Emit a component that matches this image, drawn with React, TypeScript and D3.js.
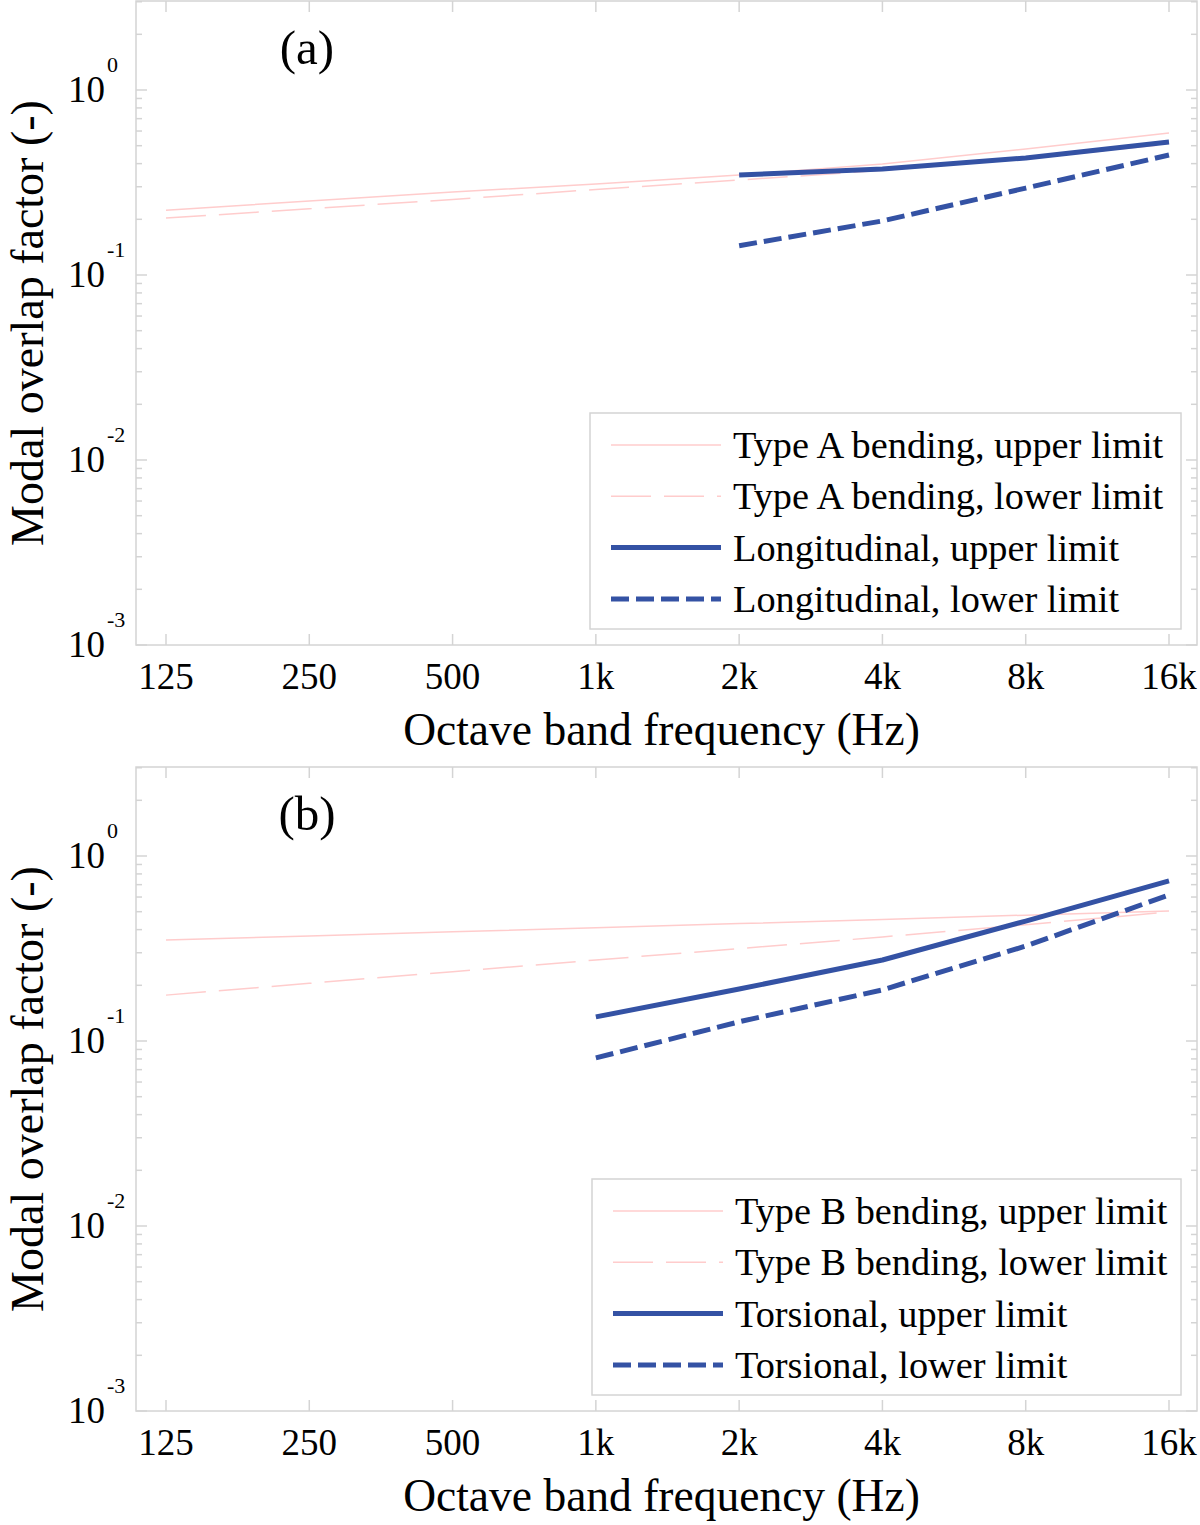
import { useEffect, useRef } from "react";
import * as d3 from "d3";

// octave bands shared by both panels
const BANDS = [125, 250, 500, 1000, 2000, 4000, 8000, 16000];
const BAND_LABELS = ["125", "250", "500", "1k", "2k", "4k", "8k", "16k"];
const Y_DECADES = [1e-3, 1e-2, 1e-1, 1];
const Y_EXPONENTS = ["-3", "-2", "-1", "0"];

// panel (a)
const typeAUpper = [0.224, 0.251, 0.281, 0.31, 0.347, 0.398, 0.48, 0.586];
const typeALower = [0.203, 0.228, 0.256, 0.29, 0.326, 0.368, 0.425, 0.51];
const longBands = [2000, 4000, 8000, 16000];
const longUpper = [0.347, 0.374, 0.429, 0.523];
const longLower = [0.144, 0.196, 0.295, 0.445];

// panel (b)
const typeBUpper = [0.351, 0.37, 0.389, 0.409, 0.431, 0.454, 0.479, 0.505];
const typeBLower = [0.177, 0.205, 0.237, 0.274, 0.316, 0.365, 0.425, 0.498];
const torsBands = [1000, 2000, 4000, 8000, 16000];
const torsUpper = [0.135, 0.191, 0.274, 0.445, 0.733];
const torsLower = [0.081, 0.127, 0.189, 0.326, 0.616];

const PINK = "#ffcccc";
const BLUE = "#3452a4";
const AXIS = "#d4d4d4";
const FONT = "'Liberation Serif', 'Times New Roman', serif";

interface Series {
  name: string;
  x: number[];
  y: number[];
  color: string;
  width: number;
  dash: string | null;
}

interface Panel {
  tag: string;
  top: number;
  series: Series[];
  legendLeft: number;
}

const panels: Panel[] = [
  {
    tag: "(a)",
    top: 1,
    legendLeft: 590,
    series: [
      { name: "Type A bending, upper limit", x: BANDS, y: typeAUpper, color: PINK, width: 1.5, dash: null },
      { name: "Type A bending, lower limit", x: BANDS, y: typeALower, color: PINK, width: 1.5, dash: "40,13" },
      { name: "Longitudinal, upper limit", x: longBands, y: longUpper, color: BLUE, width: 5, dash: null },
      { name: "Longitudinal, lower limit", x: longBands, y: longLower, color: BLUE, width: 5, dash: "18,7" },
    ],
  },
  {
    tag: "(b)",
    top: 767,
    legendLeft: 592,
    series: [
      { name: "Type B bending, upper limit", x: BANDS, y: typeBUpper, color: PINK, width: 1.5, dash: null },
      { name: "Type B bending, lower limit", x: BANDS, y: typeBLower, color: PINK, width: 1.5, dash: "40,13" },
      { name: "Torsional, upper limit", x: torsBands, y: torsUpper, color: BLUE, width: 5, dash: null },
      { name: "Torsional, lower limit", x: torsBands, y: torsLower, color: BLUE, width: 5, dash: "18,7" },
    ],
  },
];

const W = 1200;
const H = 1525;
const LEFT = 136;
const RIGHT = 1197;
const BOX_H = 644;
const DECADE = 185;

export default function App() {
  const svgRef = useRef<SVGSVGElement>(null);

  useEffect(() => {
    if (!svgRef.current) return;
    const svg = d3.select(svgRef.current);
    svg.selectAll("*").remove();

    const x = d3.scaleLog().base(2).domain([125, 16000]).range([166, 1169]);

    panels.forEach((p) => {
      const bottom = p.top + BOX_H;
      const y = d3.scaleLog().domain([1e-3, 1]).range([bottom, bottom - 3 * DECADE]);
      const g = svg.append("g");

      // box
      g.append("rect")
        .attr("x", LEFT).attr("y", p.top)
        .attr("width", RIGHT - LEFT).attr("height", BOX_H)
        .attr("fill", "white").attr("stroke", AXIS).attr("stroke-width", 1.5);

      // x ticks (bottom + top)
      BANDS.forEach((b, i) => {
        const px = x(b);
        g.append("line").attr("x1", px).attr("x2", px)
          .attr("y1", bottom).attr("y2", bottom - 11)
          .attr("stroke", AXIS).attr("stroke-width", 1.5);
        g.append("line").attr("x1", px).attr("x2", px)
          .attr("y1", p.top).attr("y2", p.top + 11)
          .attr("stroke", AXIS).attr("stroke-width", 1.5);
        g.append("text")
          .attr("x", px).attr("y", bottom + 44)
          .attr("text-anchor", "middle")
          .attr("font-family", FONT).attr("font-size", 37)
          .text(BAND_LABELS[i]);
      });

      // y ticks, major and minor, both sides
      const minor: number[] = [];
      [1e-3, 1e-2, 1e-1, 1].forEach((d) => {
        for (let m = 2; m <= 9; m++) minor.push(d * m);
      });
      minor.forEach((v) => {
        const py = y(v);
        if (py < p.top + 0.5) return;
        g.append("line").attr("x1", LEFT).attr("x2", LEFT + 6)
          .attr("y1", py).attr("y2", py).attr("stroke", AXIS).attr("stroke-width", 1.5);
        g.append("line").attr("x1", RIGHT).attr("x2", RIGHT - 6)
          .attr("y1", py).attr("y2", py).attr("stroke", AXIS).attr("stroke-width", 1.5);
      });
      Y_DECADES.forEach((v, i) => {
        const py = y(v);
        g.append("line").attr("x1", LEFT).attr("x2", LEFT + 11)
          .attr("y1", py).attr("y2", py).attr("stroke", AXIS).attr("stroke-width", 1.5);
        g.append("line").attr("x1", RIGHT).attr("x2", RIGHT - 11)
          .attr("y1", py).attr("y2", py).attr("stroke", AXIS).attr("stroke-width", 1.5);
        g.append("text")
          .attr("x", 105).attr("y", py + 12)
          .attr("text-anchor", "end")
          .attr("font-family", FONT).attr("font-size", 37)
          .text("10");
        g.append("text")
          .attr("x", 107).attr("y", py - 18)
          .attr("font-family", FONT).attr("font-size", 22)
          .text(Y_EXPONENTS[i]);
      });

      // series
      const line = d3.line<[number, number]>().x((d) => x(d[0])).y((d) => y(d[1]));
      p.series.forEach((s) => {
        const pts = s.x.map((xx, i) => [xx, s.y[i]] as [number, number]);
        g.append("path")
          .attr("d", line(pts))
          .attr("fill", "none")
          .attr("stroke", s.color)
          .attr("stroke-width", s.width)
          .attr("stroke-dasharray", s.dash)
          .attr("stroke-linejoin", "round");
      });

      // legend
      const lx = p.legendLeft;
      const ly = p.top + 412;
      g.append("rect")
        .attr("x", lx).attr("y", ly)
        .attr("width", 1181 - lx).attr("height", 216)
        .attr("fill", "white").attr("stroke", AXIS).attr("stroke-width", 1.5);
      p.series.forEach((s, i) => {
        const ry = ly + 32 + i * 51.3;
        g.append("line")
          .attr("x1", lx + 21).attr("x2", lx + 131)
          .attr("y1", ry).attr("y2", ry)
          .attr("stroke", s.color).attr("stroke-width", s.width)
          .attr("stroke-dasharray", s.dash);
        g.append("text")
          .attr("x", lx + 143).attr("y", ry + 13)
          .attr("font-family", FONT).attr("font-size", 38.3)
          .text(s.name);
      });

      // panel tag
      g.append("text")
        .attr("x", 307).attr("y", p.top + 63)
        .attr("text-anchor", "middle")
        .attr("font-family", FONT).attr("font-size", 49)
        .text(p.tag);

      // axis labels
      g.append("text")
        .attr("x", (LEFT + RIGHT) / 2 - 5).attr("y", bottom + 100)
        .attr("text-anchor", "middle")
        .attr("font-family", FONT).attr("font-size", 45.5)
        .text("Octave band frequency (Hz)");
      g.append("text")
        .attr("transform", `translate(43,${p.top + BOX_H / 2}) rotate(-90)`)
        .attr("text-anchor", "middle")
        .attr("font-family", FONT).attr("font-size", 46)
        .text("Modal overlap factor (-)");
    });
  }, []);

  return (
    <svg
      ref={svgRef}
      width={W}
      height={H}
      style={{ position: "absolute", left: 0, top: 0, background: "white" }}
    />
  );
}
